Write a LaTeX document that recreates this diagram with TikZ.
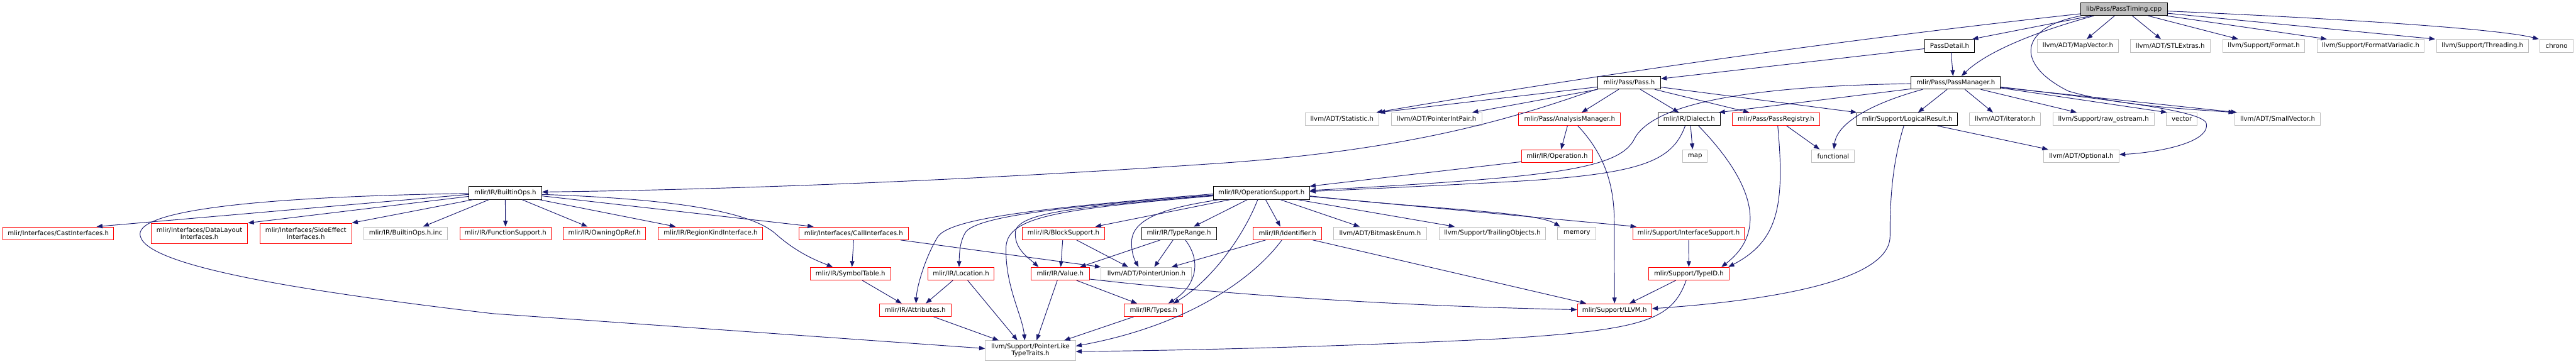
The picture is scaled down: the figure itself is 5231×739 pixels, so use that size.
\documentclass[tikz,border=0pt]{standalone}
\usepackage{fontspec}
\setmainfont{DejaVu Sans}
\usetikzlibrary{arrows.meta,calc}
\definecolor{edgec}{HTML}{191970}
\definecolor{grayb}{HTML}{BFBFBF}
\newcommand\nfs{\fontsize{6.5}{7.1}\selectfont}
\tikzset{
  nbase/.style={draw, line width=0.6pt, fill=white, inner sep=0pt, minimum height=13pt, font=\nfs, align=center},
  nblack/.style={nbase, draw=black},
  nred/.style={nbase, draw=red},
  ngray/.style={nbase, draw=grayb},
  ntop/.style={nbase, draw=black, fill=grayb},
  tall/.style={minimum height=20.5pt},
  bw/.style={minimum width=#1*0.5pt},
  edg/.style={draw=edgec, line width=0.6pt, -{Triangle[length=6pt,width=4.5pt]}}
}
\begin{document}
\begin{tikzpicture}[x=0.5pt,y=-0.5pt]
\useasboundingbox (0,0) rectangle (5231,739);
% row 0
\node[ntop,bw=176] (timing) at (4313,18.5) {lib/Pass/PassTiming.cpp};
% row 1
\node[nblack,bw=102] (detail) at (3959,93) {PassDetail.h};
\node[ngray,bw=165] (mapvec) at (4219.5,93) {llvm/ADT/MapVector.h};
\node[ngray,bw=162] (stlext) at (4407,93) {llvm/ADT/STLExtras.h};
\node[ngray,bw=166] (format) at (4597,93) {llvm/Support/Format.h};
\node[ngray,bw=218] (fmtvar) at (4814,93) {llvm/Support/FormatVariadic.h};
\node[ngray,bw=186] (thread) at (5041,93) {llvm/Support/Threading.h};
\node[ngray,bw=67] (chrono) at (5191.5,93) {chrono};
% row 2
\node[nblack,bw=127] (pass) at (3308.5,168) {mlir/Pass/Pass.h};
\node[nblack,bw=181] (pm) at (3971.5,168) {mlir/Pass/PassManager.h};
% row 3
\node[ngray,bw=150] (stat) at (2725,242) {llvm/ADT/Statistic.h};
\node[ngray,bw=184] (pip) at (2917,242) {llvm/ADT/PointerIntPair.h};
\node[nred,bw=207] (am) at (3187.5,242) {mlir/Pass/AnalysisManager.h};
\node[nblack,bw=126] (dialect) at (3430,242) {mlir/IR/Dialect.h};
\node[nred,bw=177] (preg) at (3606.5,242) {mlir/Pass/PassRegistry.h};
\node[nblack,bw=204] (logres) at (3873,242) {mlir/Support/LogicalResult.h};
\node[ngray,bw=145] (iter) at (4071.5,242) {llvm/ADT/iterator.h};
\node[ngray,bw=205] (rawos) at (4271.5,242) {llvm/Support/raw\_ostream.h};
\node[ngray,bw=63] (vector) at (4430.5,242) {vector};
\node[ngray,bw=174] (smallvec) at (4625,242) {llvm/ADT/SmallVector.h};
% row 4
\node[nred,bw=144] (operation) at (3162,317) {mlir/IR/Operation.h};
\node[ngray,bw=50] (map) at (3442,317) {map};
\node[ngray,bw=87] (functional) at (3722.5,317) {functional};
\node[ngray,bw=153] (optional) at (4226.5,317) {llvm/ADT/Optional.h};
% row 5
\node[nblack,bw=148] (builtin) at (1026,392) {mlir/IR/BuiltinOps.h};
\node[nblack,bw=195] (opsup) at (2561.5,392) {mlir/IR/OperationSupport.h};
% row 6
\node[nred,bw=225] (cast) at (118.5,474) {mlir/Interfaces/CastInterfaces.h};
\node[nred,bw=196,tall] (dlayout) at (405,474) {mlir/Interfaces/DataLayout\\Interfaces.h};
\node[nred,bw=186,tall] (sideeff) at (621,474) {mlir/Interfaces/SideEffect\\Interfaces.h};
\node[ngray,bw=170] (inc) at (824,474) {mlir/IR/BuiltinOps.h.inc};
\node[nred,bw=185] (funcsup) at (1026.5,474) {mlir/IR/FunctionSupport.h};
\node[nred,bw=167] (owning) at (1227.5,474) {mlir/IR/OwningOpRef.h};
\node[nred,bw=212] (region) at (1443,474) {mlir/IR/RegionKindInterface.h};
\node[nred,bw=223] (callif) at (1733.5,474) {mlir/Interfaces/CallInterfaces.h};
\node[nred,bw=167] (blocksup) at (2159.5,474) {mlir/IR/BlockSupport.h};
\node[nblack,bw=152] (typerange) at (2394,474) {mlir/IR/TypeRange.h};
\node[nred,bw=139] (ident) at (2614.5,474) {mlir/IR/Identifier.h};
\node[ngray,bw=189] (bitmask) at (2802.5,474) {llvm/ADT/BitmaskEnum.h};
\node[ngray,bw=217] (trailing) at (3030.5,474) {llvm/Support/TrailingObjects.h};
\node[ngray,bw=78] (memory) at (3202,474) {memory};
\node[nred,bw=226] (ifsup) at (3429,474) {mlir/Support/InterfaceSupport.h};
% row 7
\node[nred,bw=164] (symtab) at (1727,556) {mlir/IR/SymbolTable.h};
\node[nred,bw=135] (location) at (1951.5,556) {mlir/IR/Location.h};
\node[nred,bw=118] (value) at (2153,556) {mlir/IR/Value.h};
\node[ngray,bw=184] (punion) at (2328,556) {llvm/ADT/PointerUnion.h};
\node[nred,bw=163] (typeid) at (3429.5,556) {mlir/Support/TypeID.h};
% row 8
\node[nred,bw=145] (attr) at (1858.5,630) {mlir/IR/Attributes.h};
\node[nred,bw=119] (types) at (2342.5,630) {mlir/IR/Types.h};
\node[nred,bw=151] (llvmh) at (3278.5,630) {mlir/Support/LLVM.h};
% row 9
\node[ngray,bw=183,minimum height=20pt] (plike) at (2092.5,712) {llvm/Support/PointerLike\\TypeTraits.h};

% ---- edges from PassTiming
\draw[edg] ($(timing.south)+(-66,0)$) -- ($(detail.north)+(46,0)$);
\draw[edg] ($(timing.south)+(-19,0)$) -- ($(mapvec.north)+(18,0)$);
\draw[edg] ($(timing.south)+(17,0)$) -- ($(stlext.north)+(-19,0)$);
\draw[edg] ($(timing.south)+(49,0)$) -- ($(format.north)+(-52,0)$);
\draw[edg] ($(timing.south)+(86,0)$) -- ($(fmtvar.north)+(-89,0)$);
\draw[edg] ($(timing.east)+(0,8.5)$) -- ($(thread.north)+(-96,0)$);
\draw[edg] ($(timing.east)+(0,4)$) .. controls (4800,40) and (5080,60) .. ($(chrono.north)+(-36,0)$);
\draw[edg] ($(timing.south)+(-61,0)$) .. controls (4150,60) and (4040,100) .. ($(pm.north)+(11.5,0)$);
\draw[edg] ($(timing.south west)+(2,0)$) .. controls (4100,55) and (4090,130) .. (4200,185) .. controls (4300,215) and (4450,222) .. ($(smallvec.north west)+(0,0)$);
\draw[edg] ($(timing.west)+(0,9.5)$) .. controls (3750,80) and (3250,150) .. ($(stat.north)+(70,0)$);
% ---- PassDetail
\draw[edg] ($(detail.south)+(3,0)$) -- ($(pm.north)+(-5.5,0)$);
\draw[edg] ($(detail.west)+(0,6)$) -- ($(pass.east)+(0,-8)$);
% ---- PassManager
\draw[edg] ($(pm.south)+(-17.5,0)$) -- ($(logres.north)+(22,0)$);
\draw[edg] ($(pm.south)+(18.5,0)$) -- ($(iter.north)+(-24.5,0)$);
\draw[edg] ($(pm.south)+(50.5,0)$) -- ($(rawos.north)+(-54.5,0)$);
\draw[edg] ($(pm.south east)+(0,-3)$) -- ($(vector.north west)+(2,0)$);
\draw[edg] ($(pm.south east)+(0,-4)$) -- ($(smallvec.north west)+(5,0)$);
\draw[edg] ($(pm.south east)+(0,-5)$) .. controls (4300,205) and (4470,225) .. (4480,250) .. controls (4490,290) and (4380,310) .. ($(optional.east)+(0,-3)$);
\draw[edg] ($(pm.south west)+(24,0)$) .. controls (3800,210) and (3730,250) .. ($(functional.north)+(1.5,0)$);
\draw[edg] ($(pm.south west)+(0,-1)$) -- ($(dialect.north east)+(-3,0)$);
\draw[edg] ($(pm.west)+(0,2)$) .. controls (3550,175) and (3360,210) .. (3320,280) .. controls (3290,345) and (3150,360) .. ($(opsup.east)+(0,-5)$);
% ---- Pass.h
\draw[edg] ($(pass.south west)+(0,-5)$) -- ($(stat.north east)+(0,0)$);
\draw[edg] ($(pass.south west)+(0,0)$) -- ($(pip.north east)+(-20,0)$);
\draw[edg] ($(pass.south)+(-21.5,0)$) -- ($(am.north)+(24.5,0)$);
\draw[edg] ($(pass.south)+(22.5,0)$) -- ($(dialect.north)+(-21,0)$);
\draw[edg] ($(pass.south)+(51.5,0)$) -- ($(preg.north)+(-54.5,0)$);
\draw[edg] ($(pass.east)+(0,9)$) -- ($(logres.north west)+(0,0)$);
\draw[edg] ($(pass.south west)+(-3,0)$) .. controls (3100,230) and (2900,300) .. (2500,330) .. controls (2000,365) and (1500,385) .. ($(builtin.east)+(0,-2)$);
% ---- AnalysisManager
\draw[edg] ($(am.south)+(-4.5,0)$) -- ($(operation.north)+(8,0)$);
\draw[edg] ($(am.south)+(16.5,0)$) .. controls (3255,310) and (3278,370) .. (3278,450) -- ($(llvmh.north)+(0,0)$);
% ---- Dialect
\draw[edg] ($(dialect.south)+(-8,0)$) .. controls (3395,330) and (3330,355) .. (3050,370) .. controls (2900,378) and (2750,385) .. ($(opsup.east)+(0,-3)$);
\draw[edg] ($(dialect.south)+(3,0)$) -- ($(map.north)+(-5,0)$);
\draw[edg] ($(dialect.south)+(19,0)$) .. controls (3560,370) and (3590,470) .. ($(typeid.north east)+(-16,0)$);
% ---- PassRegistry
\draw[edg] ($(preg.south)+(21.5,0)$) -- ($(functional.north)+(-27.5,0)$);
\draw[edg] ($(preg.south)+(3.5,0)$) .. controls (3625,420) and (3610,490) .. ($(typeid.north east)+(-2,0)$);
% ---- LogicalResult
\draw[edg] ($(logres.south)+(61,0)$) -- ($(optional.north)+(-67.5,0)$);
\draw[edg] ($(logres.south)+(-7,0)$) .. controls (3840,340) and (3838,420) .. (3838,480) .. controls (3838,570) and (3600,610) .. ($(llvmh.east)+(0,-3)$);
% ---- Operation
\draw[edg] ($(operation.south west)+(0,-2)$) -- ($(opsup.north east)+(0,0)$);
% ---- BuiltinOps
\draw[edg] ($(builtin.west)+(0,3)$) -- ($(cast.north)+(77.5,0)$);
\draw[edg] ($(builtin.west)+(0,7)$) -- ($(dlayout.north east)+(0,0)$);
\draw[edg] ($(builtin.south west)+(9,0)$) -- ($(sideeff.north east)+(0,0)$);
\draw[edg] ($(builtin.south)+(-33,0)$) -- ($(inc.north)+(35,0)$);
\draw[edg] (builtin.south) -- (funcsup.north);
\draw[edg] ($(builtin.south)+(34,0)$) -- ($(owning.north)+(-34.5,0)$);
\draw[edg] ($(builtin.south)+(69,0)$) -- ($(region.north)+(-71,0)$);
\draw[edg] ($(builtin.east)+(0,6)$) -- ($(callif.north)+(-81.5,0)$);
\draw[edg] ($(builtin.east)+(0,3)$) .. controls (1400,405) and (1530,435) .. (1575,475) .. controls (1620,515) and (1660,530) .. ($(symtab.north)+(-36,0)$);
\draw[edg] ($(builtin.west)+(0,1)$) .. controls (500,400) and (270,430) .. (285,480) .. controls (300,540) and (600,590) .. (1000,637) -- ($(plike.west)+(0,-4)$);
% ---- CallInterfaces
\draw[edg] (callif.south) -- ($(symtab.north)+(3,0)$);
\draw[edg] ($(callif.south east)+(-17,0)$) -- ($(punion.north west)+(0,0)$);
% ---- SymbolTable, Location, Attributes
\draw[edg] ($(symtab.south)+(24,0)$) -- ($(attr.north)+(-27.5,0)$);
\draw[edg] ($(location.south)+(-16.5,0)$) -- ($(attr.north)+(21.5,0)$);
\draw[edg] ($(location.south)+(13.5,0)$) -- ($(plike.north)+(-26.5,0)$);
\draw[edg] ($(attr.south)+(37.5,0)$) -- ($(plike.north)+(-64.5,0)$);
% ---- OperationSupport
\draw[edg] ($(opsup.west)+(0,2)$) .. controls (2150,420) and (1935,440) .. (1905,480) .. controls (1880,520) and (1862,580) .. ($(attr.north)+(1.5,0)$);
\draw[edg] ($(opsup.west)+(0,4)$) .. controls (2150,420) and (1990,440) .. (1962,470) .. controls (1948,490) and (1948,520) .. ($(location.north)+(-4,0)$);
\draw[edg] ($(opsup.west)+(0,6)$) .. controls (2150,425) and (2048,440) .. (2043,500) .. controls (2040,580) and (2076,640) .. ($(plike.north)+(-11.5,0)$);
\draw[edg] ($(opsup.west)+(0,5)$) .. controls (2200,420) and (2070,430) .. (2062,470) .. controls (2058,505) and (2090,525) .. ($(value.north)+(-44,0)$);
\draw[edg] ($(opsup.south)+(-63.5,0)$) -- ($(blocksup.north)+(64.5,0)$);
\draw[edg] ($(opsup.south)+(-85.5,0)$) .. controls (2380,420) and (2300,440) .. (2298,490) .. controls (2297,515) and (2305,530) .. ($(punion.north)+(-16,0)$);
\draw[edg] ($(opsup.south)+(-28.5,0)$) -- ($(typerange.north)+(30,0)$);
\draw[edg] ($(opsup.south)+(-7.5,0)$) .. controls (2525,480) and (2460,570) .. ($(types.north)+(40,0)$);
\draw[edg] ($(opsup.south)+(8.5,0)$) -- ($(ident.north)+(-14.5,0)$);
\draw[edg] ($(opsup.south)+(38.5,0)$) -- ($(bitmask.north)+(-41.5,0)$);
\draw[edg] ($(opsup.south)+(73.5,0)$) -- ($(trailing.north)+(-76.5,0)$);
\draw[edg] ($(opsup.east)+(0,6)$) .. controls (2900,425) and (3120,430) .. ($(memory.north)+(-34,0)$);
\draw[edg] ($(opsup.east)+(0,7)$) -- ($(ifsup.north)+(-106,0)$);
% ---- BlockSupport, TypeRange, Identifier
\draw[edg] ($(blocksup.south)+(-1.5,0)$) -- ($(value.north)+(1,0)$);
\draw[edg] ($(blocksup.south)+(26.5,0)$) -- ($(punion.north)+(-37,0)$);
\draw[edg] ($(typerange.south)+(-38,0)$) -- ($(value.north)+(40,0)$);
\draw[edg] ($(typerange.south)+(-12,0)$) -- ($(punion.north)+(16,0)$);
\draw[edg] ($(typerange.south)+(13,0)$) .. controls (2440,530) and (2430,580) .. ($(types.north)+(30,0)$);
\draw[edg] ($(ident.south)+(-44.5,0)$) -- ($(punion.north)+(51,0)$);
\draw[edg] ($(ident.south)+(-11.5,0)$) .. controls (2550,560) and (2420,660) .. ($(plike.east)+(0,-9)$);
\draw[edg] ($(ident.south)+(51.5,0)$) -- ($(llvmh.north)+(-57.5,0)$);
% ---- Value, Types
\draw[edg] ($(value.south)+(33,0)$) -- ($(types.north)+(-33.5,0)$);
\draw[edg] ($(value.south)+(-6,0)$) -- ($(plike.north)+(12.5,0)$);
\draw[edg] ($(value.east)+(0,11)$) .. controls (2500,600) and (2850,622) .. ($(llvmh.west)+(0,-1)$);
\draw[edg] ($(types.south)+(-40.5,0)$) -- ($(plike.north)+(68.5,0)$);
% ---- InterfaceSupport, TypeID
\draw[edg] (ifsup.south) -- (typeid.north);
\draw[edg] ($(typeid.south)+(-26.5,0)$) -- ($(llvmh.north)+(30.5,0)$);
\draw[edg] ($(typeid.south)+(-5.5,0)$) .. controls (3395,650) and (3340,670) .. (3050,688) .. controls (2700,705) and (2400,712) .. ($(plike.east)+(0,2)$);
\end{tikzpicture}
\end{document}
